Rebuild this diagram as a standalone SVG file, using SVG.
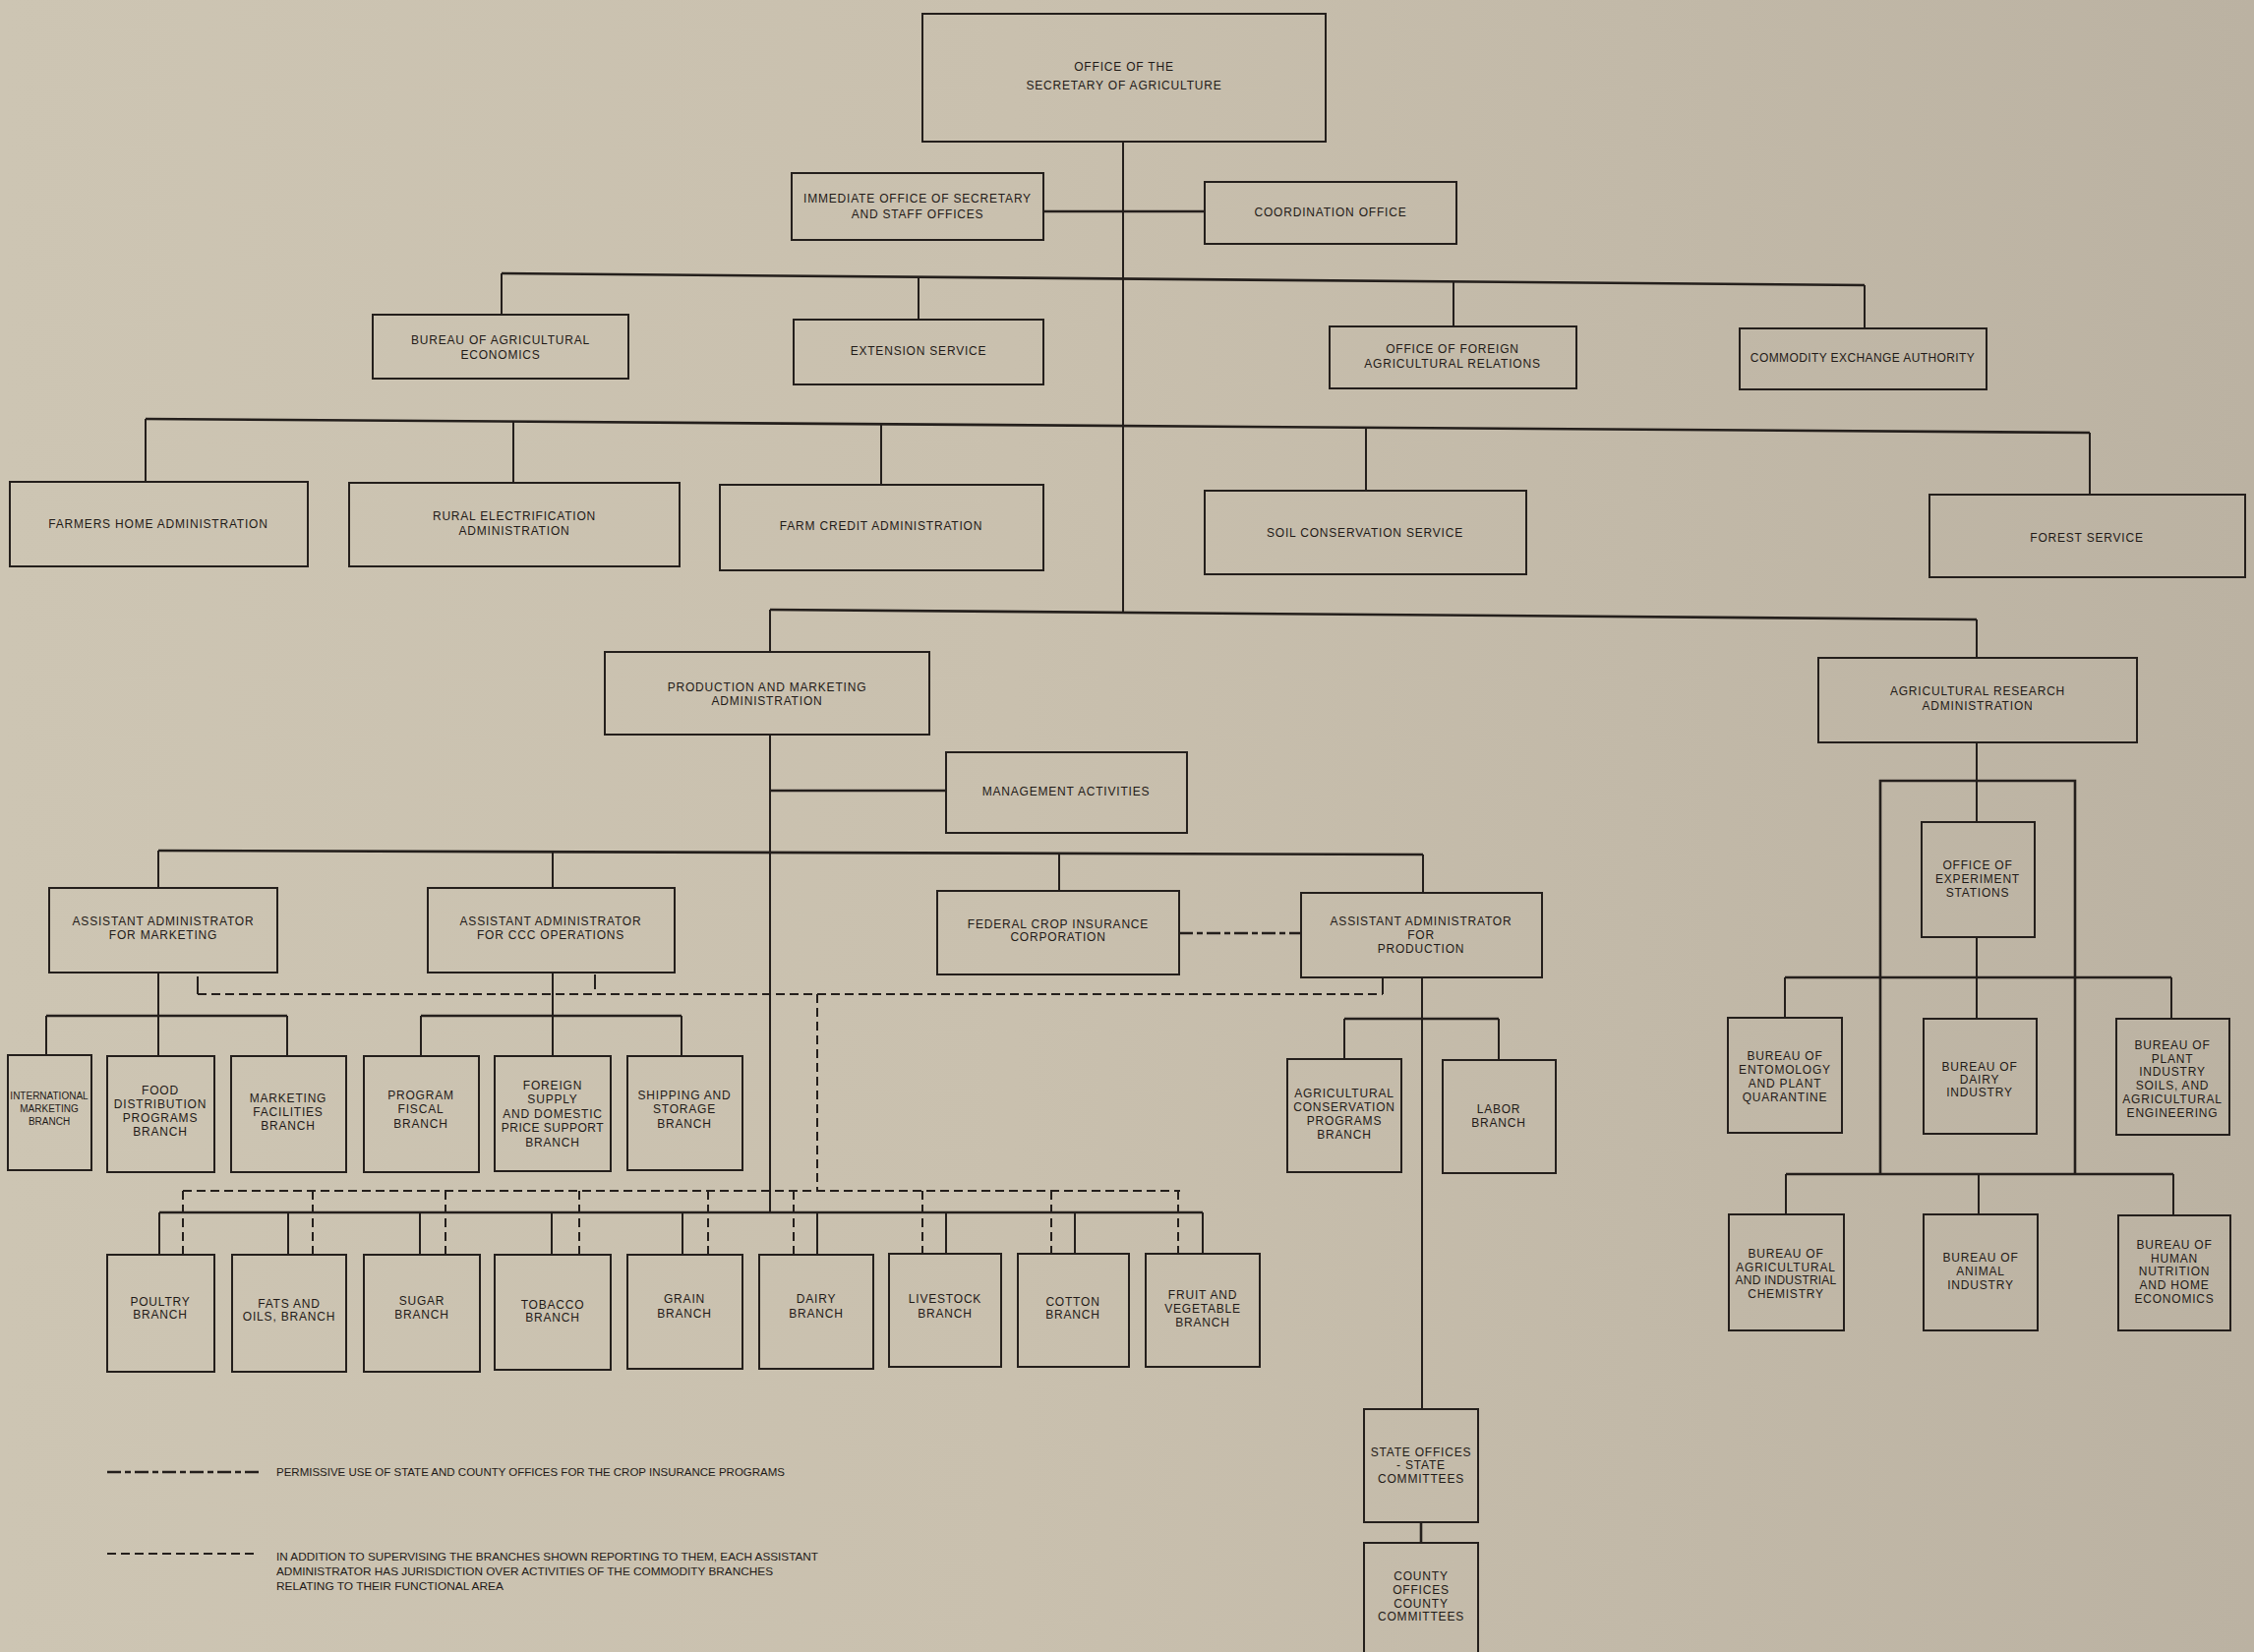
<svg xmlns="http://www.w3.org/2000/svg" width="2292" height="1680" viewBox="0 0 2292 1680">
<defs>
<linearGradient id="bg" x1="0" y1="0" x2="1" y2="0">
<stop offset="0" stop-color="#cdc5b3"/>
<stop offset="0.45" stop-color="#c9c0ae"/>
<stop offset="1" stop-color="#bbb2a2"/>
</linearGradient>
<style>
.bx{fill:none;stroke:#241f1c;stroke-width:2}
.t{font-family:"Liberation Sans",Arial,sans-serif;font-size:12px;letter-spacing:0.8px;fill:#1f1a17;text-anchor:middle}
.s{font-size:10px;letter-spacing:0}
.c{fill:none;stroke:#241f1c;stroke-width:2}
.b{stroke-width:2.6}
.d{stroke-dasharray:9 5}
.dp{stroke-dasharray:14 4 6 4;stroke-width:2.4}
.lg{font-family:"Liberation Sans",Arial,sans-serif;font-size:10.5px;fill:#1f1a17}
</style>
</defs>
<rect x="0" y="0" width="2292" height="1680" fill="url(#bg)"/>

<g id="connectors">
<path class="c" d="M1142 144 V623"/>
<path class="c b" d="M1061 215 H1225"/>
<path class="c b" d="M510 278 L1896 290"/>
<path class="c" d="M510 278 V320 M934 282 V325 M1478 286 V332 M1896 290 V334"/>
<path class="c b" d="M148 426 L2125 440"/>
<path class="c" d="M148 426 V490 M522 429 V491 M896 431 V493 M1389 435 V499 M2125 440 V503"/>
<path class="c b" d="M783 620 L2010 630"/>
<path class="c" d="M783 620 V663 M2010 630 V669"/>
<path class="c" d="M783 747 V1233"/>
<path class="c b" d="M783 804 H962"/>
<path class="c b" d="M161 865 L1447 869"/>
<path class="c" d="M161 865 V903 M562 866 V903 M1077 868 V906 M1447 869 V908"/>
<path class="c dp" d="M1199 949 H1323"/>
<path class="c" d="M161 989 V1033 M562 989 V1033"/>
<path class="c b" d="M47 1033 H292 M428 1033 H693"/>
<path class="c" d="M47 1033 V1073 M161 1033 V1074 M292 1033 V1074 M428 1033 V1074 M562 1033 V1074 M693 1033 V1074"/>
<path class="c d" d="M201 1011 H1406"/>
<path class="c" d="M201 993 V1011 M605 991 V1006 M1406 995 V1011"/>
<path class="c d" d="M831 1011 V1211"/>
<path class="c d" d="M186 1211 H1200"/>
<path class="c d" d="M186 1211 V1275 M318 1211 V1275 M453 1211 V1275 M589 1211 V1275 M720 1211 V1275 M807 1211 V1275 M938 1211 V1275 M1069 1211 V1275 M1198 1211 V1275"/>
<path class="c b" d="M162 1233 H1223"/>
<path class="c" d="M162 1233 V1276 M293 1233 V1276 M427 1233 V1276 M561 1233 V1276 M694 1233 V1276 M831 1233 V1276 M962 1233 V1275 M1093 1233 V1275 M1223 1233 V1275"/>
<path class="c" d="M1446 994 V1433"/>
<path class="c b" d="M1367 1036 H1524"/>
<path class="c" d="M1367 1036 V1077 M1524 1036 V1078"/>
<path class="c b" d="M1445 1548 V1569"/>
<path class="c" d="M2010 755 V836"/>
<path class="c b" d="M1912 1194 V794 H2110 V1194"/>
<path class="c" d="M2010 953 V1036"/>
<path class="c b" d="M1815 994 H2208 M1816 1194 H2210"/>
<path class="c" d="M1815 994 V1035 M2208 994 V1036 M1816 1194 V1235 M2012 1194 V1235 M2210 1194 V1236"/>
</g>

<g id="n-secretary"><rect class="bx" x="938" y="14" width="410" height="130"/><text class="t" x="1143" y="72">OFFICE OF THE</text><text class="t" x="1143" y="91">SECRETARY OF AGRICULTURE</text></g>
<g id="n-immediate"><rect class="bx" x="805" y="176" width="256" height="68"/><text class="t" x="933" y="206">IMMEDIATE OFFICE OF SECRETARY</text><text class="t" x="933" y="222">AND STAFF OFFICES</text></g>
<g id="n-coordination"><rect class="bx" x="1225" y="185" width="256" height="63"/><text class="t" x="1353" y="220">COORDINATION OFFICE</text></g>
<g id="n-bae"><rect class="bx" x="379" y="320" width="260" height="65"/><text class="t" x="509" y="350">BUREAU OF AGRICULTURAL</text><text class="t" x="509" y="365">ECONOMICS</text></g>
<g id="n-extension"><rect class="bx" x="807" y="325" width="254" height="66"/><text class="t" x="934" y="361">EXTENSION SERVICE</text></g>
<g id="n-ofar"><rect class="bx" x="1352" y="332" width="251" height="63"/><text class="t" x="1477" y="359">OFFICE OF FOREIGN</text><text class="t" x="1477" y="374">AGRICULTURAL RELATIONS</text></g>
<g id="n-cea"><rect class="bx" x="1769" y="334" width="251" height="62"/><text class="t" x="1894" y="368" style="letter-spacing:0.4px">COMMODITY EXCHANGE AUTHORITY</text></g>
<g id="n-fha"><rect class="bx" x="10" y="490" width="303" height="86"/><text class="t" x="161" y="537">FARMERS HOME ADMINISTRATION</text></g>
<g id="n-rea"><rect class="bx" x="355" y="491" width="336" height="85"/><text class="t" x="523" y="529">RURAL ELECTRIFICATION</text><text class="t" x="523" y="544">ADMINISTRATION</text></g>
<g id="n-fca"><rect class="bx" x="732" y="493" width="329" height="87"/><text class="t" x="896" y="539">FARM CREDIT ADMINISTRATION</text></g>
<g id="n-scs"><rect class="bx" x="1225" y="499" width="327" height="85"/><text class="t" x="1388" y="546">SOIL CONSERVATION SERVICE</text></g>
<g id="n-fs"><rect class="bx" x="1962" y="503" width="321" height="84"/><text class="t" x="2122" y="551">FOREST SERVICE</text></g>
<g id="n-pma"><rect class="bx" x="615" y="663" width="330" height="84"/><text class="t" x="780" y="703">PRODUCTION AND MARKETING</text><text class="t" x="780" y="717">ADMINISTRATION</text></g>
<g id="n-ara"><rect class="bx" x="1849" y="669" width="324" height="86"/><text class="t" x="2011" y="707">AGRICULTURAL RESEARCH</text><text class="t" x="2011" y="722">ADMINISTRATION</text></g>
<g id="n-mgmt"><rect class="bx" x="962" y="765" width="245" height="82"/><text class="t" x="1084" y="809">MANAGEMENT ACTIVITIES</text></g>
<g id="n-aam"><rect class="bx" x="50" y="903" width="232" height="86"/><text class="t" x="166" y="941">ASSISTANT ADMINISTRATOR</text><text class="t" x="166" y="955">FOR MARKETING</text></g>
<g id="n-aaccc"><rect class="bx" x="435" y="903" width="251" height="86"/><text class="t" x="560" y="941">ASSISTANT ADMINISTRATOR</text><text class="t" x="560" y="955">FOR CCC OPERATIONS</text></g>
<g id="n-fcic"><rect class="bx" x="953" y="906" width="246" height="85"/><text class="t" x="1076" y="944">FEDERAL CROP INSURANCE</text><text class="t" x="1076" y="957">CORPORATION</text></g>
<g id="n-aap"><rect class="bx" x="1323" y="908" width="245" height="86"/><text class="t" x="1445" y="941">ASSISTANT ADMINISTRATOR</text><text class="t" x="1445" y="955">FOR</text><text class="t" x="1445" y="969">PRODUCTION</text></g>

<g id="n-imb"><rect class="bx" x="8" y="1073" width="85" height="117"/><text class="t s" x="50" y="1118">INTERNATIONAL</text><text class="t s" x="50" y="1131">MARKETING</text><text class="t s" x="50" y="1144">BRANCH</text></g>
<g id="n-fdp"><rect class="bx" x="109" y="1074" width="109" height="118"/><text class="t" x="163" y="1113">FOOD</text><text class="t" x="163" y="1127">DISTRIBUTION</text><text class="t" x="163" y="1141">PROGRAMS</text><text class="t" x="163" y="1155">BRANCH</text></g>
<g id="n-mfb"><rect class="bx" x="235" y="1074" width="117" height="118"/><text class="t" x="293" y="1121">MARKETING</text><text class="t" x="293" y="1135">FACILITIES</text><text class="t" x="293" y="1149">BRANCH</text></g>
<g id="n-pfb"><rect class="bx" x="370" y="1074" width="117" height="118"/><text class="t" x="428" y="1118">PROGRAM</text><text class="t" x="428" y="1132">FISCAL</text><text class="t" x="428" y="1147">BRANCH</text></g>
<g id="n-fsdps"><rect class="bx" x="503" y="1074" width="118" height="117"/><text class="t" x="562" y="1108">FOREIGN</text><text class="t" x="562" y="1122">SUPPLY</text><text class="t" x="562" y="1137">AND DOMESTIC</text><text class="t" x="562" y="1151" style="letter-spacing:0.5px">PRICE SUPPORT</text><text class="t" x="562" y="1166">BRANCH</text></g>
<g id="n-ssb"><rect class="bx" x="638" y="1074" width="117" height="116"/><text class="t" x="696" y="1118">SHIPPING AND</text><text class="t" x="696" y="1132">STORAGE</text><text class="t" x="696" y="1147">BRANCH</text></g>

<g id="n-poultry"><rect class="bx" x="109" y="1276" width="109" height="119"/><text class="t" x="163" y="1328">POULTRY</text><text class="t" x="163" y="1341">BRANCH</text></g>
<g id="n-fats"><rect class="bx" x="236" y="1276" width="116" height="119"/><text class="t" x="294" y="1330">FATS AND</text><text class="t" x="294" y="1343">OILS, BRANCH</text></g>
<g id="n-sugar"><rect class="bx" x="370" y="1276" width="118" height="119"/><text class="t" x="429" y="1327">SUGAR</text><text class="t" x="429" y="1341">BRANCH</text></g>
<g id="n-tobacco"><rect class="bx" x="503" y="1276" width="118" height="117"/><text class="t" x="562" y="1331">TOBACCO</text><text class="t" x="562" y="1344">BRANCH</text></g>
<g id="n-grain"><rect class="bx" x="638" y="1276" width="117" height="116"/><text class="t" x="696" y="1325">GRAIN</text><text class="t" x="696" y="1340">BRANCH</text></g>
<g id="n-dairy"><rect class="bx" x="772" y="1276" width="116" height="116"/><text class="t" x="830" y="1325">DAIRY</text><text class="t" x="830" y="1340">BRANCH</text></g>
<g id="n-livestock"><rect class="bx" x="904" y="1275" width="114" height="115"/><text class="t" x="961" y="1325">LIVESTOCK</text><text class="t" x="961" y="1340">BRANCH</text></g>
<g id="n-cotton"><rect class="bx" x="1035" y="1275" width="113" height="115"/><text class="t" x="1091" y="1328">COTTON</text><text class="t" x="1091" y="1341">BRANCH</text></g>
<g id="n-fruit"><rect class="bx" x="1165" y="1275" width="116" height="115"/><text class="t" x="1223" y="1321">FRUIT AND</text><text class="t" x="1223" y="1335">VEGETABLE</text><text class="t" x="1223" y="1349">BRANCH</text></g>

<g id="n-acp"><rect class="bx" x="1309" y="1077" width="116" height="115"/><text class="t" x="1367" y="1116">AGRICULTURAL</text><text class="t" x="1367" y="1130">CONSERVATION</text><text class="t" x="1367" y="1144">PROGRAMS</text><text class="t" x="1367" y="1158">BRANCH</text></g>
<g id="n-labor"><rect class="bx" x="1467" y="1078" width="115" height="115"/><text class="t" x="1524" y="1132">LABOR</text><text class="t" x="1524" y="1146">BRANCH</text></g>
<g id="n-state"><rect class="bx" x="1387" y="1433" width="116" height="115"/><text class="t" x="1445" y="1481">STATE OFFICES</text><text class="t" x="1445" y="1494">- STATE</text><text class="t" x="1445" y="1508">COMMITTEES</text></g>
<g id="n-county"><rect class="bx" x="1387" y="1569" width="116" height="130"/><text class="t" x="1445" y="1607">COUNTY</text><text class="t" x="1445" y="1621">OFFICES</text><text class="t" x="1445" y="1635">COUNTY</text><text class="t" x="1445" y="1648">COMMITTEES</text></g>

<g id="n-oes"><rect class="bx" x="1954" y="836" width="115" height="117"/><text class="t" x="2011" y="884">OFFICE OF</text><text class="t" x="2011" y="898">EXPERIMENT</text><text class="t" x="2011" y="912">STATIONS</text></g>
<g id="n-bepq"><rect class="bx" x="1757" y="1035" width="116" height="117"/><text class="t" x="1815" y="1078">BUREAU OF</text><text class="t" x="1815" y="1092">ENTOMOLOGY</text><text class="t" x="1815" y="1106">AND PLANT</text><text class="t" x="1815" y="1120">QUARANTINE</text></g>
<g id="n-bdi"><rect class="bx" x="1956" y="1036" width="115" height="117"/><text class="t" x="2013" y="1089">BUREAU OF</text><text class="t" x="2013" y="1102">DAIRY</text><text class="t" x="2013" y="1115">INDUSTRY</text></g>
<g id="n-bpi"><rect class="bx" x="2152" y="1036" width="115" height="118"/><text class="t" x="2209" y="1067">BUREAU OF</text><text class="t" x="2209" y="1081">PLANT</text><text class="t" x="2209" y="1094">INDUSTRY</text><text class="t" x="2209" y="1108">SOILS, AND</text><text class="t" x="2209" y="1122">AGRICULTURAL</text><text class="t" x="2209" y="1136">ENGINEERING</text></g>
<g id="n-baic"><rect class="bx" x="1758" y="1235" width="117" height="118"/><text class="t" x="1816" y="1279">BUREAU OF</text><text class="t" x="1816" y="1293">AGRICULTURAL</text><text class="t" x="1816" y="1306" style="letter-spacing:0.2px">AND INDUSTRIAL</text><text class="t" x="1816" y="1320">CHEMISTRY</text></g>
<g id="n-bai"><rect class="bx" x="1956" y="1235" width="116" height="118"/><text class="t" x="2014" y="1283">BUREAU OF</text><text class="t" x="2014" y="1297">ANIMAL</text><text class="t" x="2014" y="1311">INDUSTRY</text></g>
<g id="n-bhn"><rect class="bx" x="2154" y="1236" width="114" height="117"/><text class="t" x="2211" y="1270">BUREAU OF</text><text class="t" x="2211" y="1284">HUMAN</text><text class="t" x="2211" y="1297">NUTRITION</text><text class="t" x="2211" y="1311">AND HOME</text><text class="t" x="2211" y="1325">ECONOMICS</text></g>

<g id="legend">
<path class="c dp" d="M109 1497 H263"/>
<text class="lg" x="281" y="1501" textLength="517" lengthAdjust="spacingAndGlyphs">PERMISSIVE USE OF STATE AND COUNTY OFFICES FOR THE CROP INSURANCE PROGRAMS</text>
<path class="c d" d="M109 1580 H263"/>
<text class="lg" x="281" y="1587" textLength="551" lengthAdjust="spacingAndGlyphs">IN ADDITION TO SUPERVISING THE BRANCHES SHOWN REPORTING TO THEM, EACH ASSISTANT</text>
<text class="lg" x="281" y="1602" textLength="505" lengthAdjust="spacingAndGlyphs">ADMINISTRATOR HAS JURISDICTION OVER ACTIVITIES OF THE COMMODITY BRANCHES</text>
<text class="lg" x="281" y="1617" textLength="231" lengthAdjust="spacingAndGlyphs">RELATING TO THEIR FUNCTIONAL AREA</text>
</g>
</svg>
